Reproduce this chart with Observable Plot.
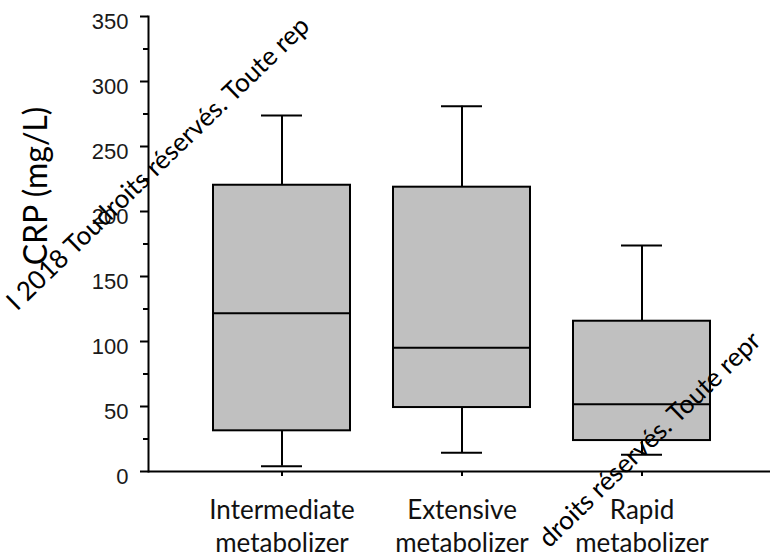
<!DOCTYPE html>
<html><head><meta charset="utf-8">
<script src="https://cdn.jsdelivr.net/npm/d3@7"></script>
<script src="https://cdn.jsdelivr.net/npm/@observablehq/plot@0.6"></script>
<style>
body{margin:0;background:#fff;}
#chart{position:relative;width:770px;height:560px;overflow:hidden;}
.wm{position:absolute;font-family:Lato,sans-serif;font-size:26px;line-height:26px;color:#000;white-space:nowrap;transform-origin:0 100%;transform:rotate(-44deg);}
</style></head><body><div id="chart"></div>
<script>
// categories
const groups = ["Intermediate metabolizer", "Extensive metabolizer", "Rapid metabolizer"];
const groupLabels = ["Intermediate\nmetabolizer", "Extensive\nmetabolizer", "Rapid\nmetabolizer"];
// box-plot statistics (CRP, mg/L)
const whiskerLow  = [4.0, 14.5, 12.8];
const q1          = [31.3, 49.2, 23.8];
const median      = [121.8, 95.1, 51.8];
const q3          = [220.2, 218.7, 115.6];
const whiskerHigh = [273.8, 281.0, 173.8];
// axis ticks
const yTicks = [0, 50, 100, 150, 200, 250, 300, 350];
const yMinorTicks = [25, 75, 125, 175, 225, 275, 325];
const yLabel = "CRP (mg/L)";
const watermark1 = "I 2018 Toudroits réservés. Toute rep";
const watermark2 = "droits réservés. Toute repr";

const data = groups.map((g, i) => ({group: g, lo: whiskerLow[i], q1: q1[i], med: median[i], q3: q3[i], hi: whiskerHigh[i]}));
const labelOf = new Map(groups.map((g, i) => [g, groupLabels[i]]));

const plot = Plot.plot({
  width: 770, height: 560,
  marginTop: 16, marginBottom: 89, marginLeft: 148, marginRight: 0,
  style: {background: "transparent", overflow: "visible"},
  x: {domain: groups, range: [148, 775], paddingInner: 0.24, paddingOuter: 0.357, label: null},
  y: {domain: [0, 350], label: null},
  marks: [
    Plot.ruleX(data, {x: "group", y1: "lo", y2: "q1", stroke: "#000", strokeWidth: 2}),
    Plot.ruleX(data, {x: "group", y1: "q3", y2: "hi", stroke: "#000", strokeWidth: 2}),
    Plot.tickY(data, {x: "group", y: "lo", insetLeft: 48, insetRight: 48, stroke: "#000", strokeWidth: 2}),
    Plot.tickY(data, {x: "group", y: "hi", insetLeft: 48, insetRight: 48, stroke: "#000", strokeWidth: 2}),
    Plot.barY(data, {x: "group", y1: "q1", y2: "q3", fill: "#c0c0c0", stroke: "#000", strokeWidth: 2}),
    Plot.tickY(data, {x: "group", y: "med", stroke: "#000", strokeWidth: 2}),
    Plot.axisY({ticks: yMinorTicks, tickSize: 5, tickFormat: () => "", stroke: "#000", strokeWidth: 2, label: null}),
    Plot.axisY({ticks: yTicks, tickSize: 8, tickFormat: () => "", stroke: "#000", strokeWidth: 2, label: null}),
    Plot.axisY({ticks: yTicks, tickSize: 0, tickPadding: 20, dy: 5, fontSize: 22, fontFamily: "Liberation Sans", fill: "#1a1a1a", label: null}),
    Plot.axisX({tickSize: 5, tickPadding: 18, tickFormat: d => labelOf.get(d), fontSize: 26, fontFamily: "Lato", lineHeight: 1.3, fill: "#111", stroke: "#000", strokeWidth: 2, label: null}),
    Plot.ruleY([0], {stroke: "#000", strokeWidth: 2}),
    Plot.frame({anchor: "left", stroke: "#000", strokeWidth: 2}),
    Plot.text([yLabel], {text: d => d, frameAnchor: "left", rotate: -90, textAnchor: "middle", lineAnchor: "bottom", dx: -102, dy: -58, fontSize: 32, fontFamily: "Lato", fill: "#000"})
  ]
});
const chart = document.getElementById("chart");
chart.appendChild(plot);
for (const [txt, left, top] of [[watermark1, 19, 288], [watermark2, 551, 525]]) {
  const d = document.createElement("div");
  d.className = "wm";
  d.textContent = txt;
  d.style.left = left + "px";
  d.style.top = top + "px";
  chart.appendChild(d);
}
</script></body></html>
